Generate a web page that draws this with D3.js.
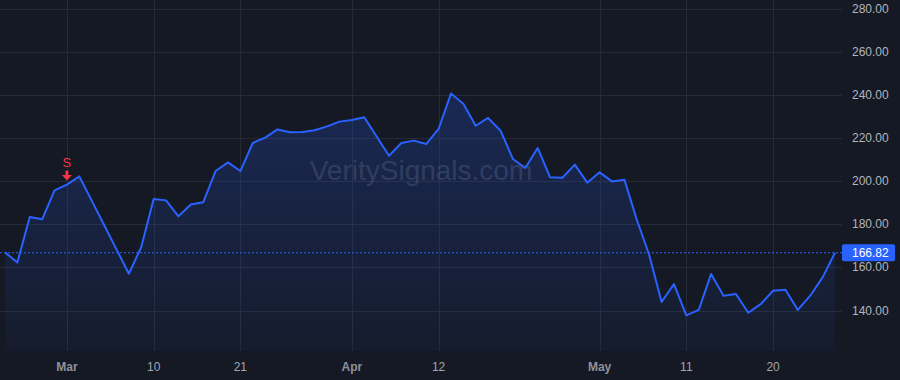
<!DOCTYPE html>
<html>
<head>
<meta charset="utf-8">
<script src="https://cdn.jsdelivr.net/npm/d3@7"></script>
<style>
  html, body { margin:0; padding:0; background:#151924; }
  svg { display:block; font-family:"Liberation Sans", Arial, sans-serif; }
</style>
</head>
<body>
<div id="display"></div>
<script>
var dates = [
  '2022-02-22','2022-02-23','2022-02-24','2022-02-25','2022-02-28',
  '2022-03-01','2022-03-02','2022-03-03','2022-03-04','2022-03-07','2022-03-08','2022-03-09','2022-03-10','2022-03-11',
  '2022-03-14','2022-03-15','2022-03-16','2022-03-17','2022-03-18','2022-03-21','2022-03-22','2022-03-23','2022-03-24',
  '2022-03-25','2022-03-28','2022-03-29','2022-03-30','2022-03-31',
  '2022-04-01','2022-04-04','2022-04-05','2022-04-06','2022-04-07','2022-04-08','2022-04-11','2022-04-12','2022-04-13',
  '2022-04-14','2022-04-18','2022-04-19','2022-04-20','2022-04-21','2022-04-22','2022-04-25','2022-04-26','2022-04-27',
  '2022-04-28','2022-04-29',
  '2022-05-02','2022-05-03','2022-05-04','2022-05-05','2022-05-06','2022-05-09','2022-05-10','2022-05-11','2022-05-12',
  '2022-05-13','2022-05-16','2022-05-17','2022-05-18','2022-05-19','2022-05-20','2022-05-23','2022-05-24','2022-05-25',
  '2022-05-26','2022-05-27'
]
var closes = [
  167.0, 162.3, 183.4, 182.3, 195.7,
  198.4, 202.2, 191.0, 179.7, 168.4, 157.1, 169.5, 191.7, 191.1,
  183.7, 189.2, 190.2, 204.7, 208.7, 204.7, 217.7, 220.2, 224.0,
  222.7, 222.8, 223.6, 225.4, 227.6,
  228.4, 229.6, 220.7, 211.8, 217.7, 218.8, 217.2, 224.2, 240.6,
  235.9, 225.7, 229.3, 223.4, 210.3, 206.1, 215.4, 201.8, 201.6,
  207.7, 199.3,
  204.1, 199.9, 200.7, 182.1, 165.9, 144.0, 152.3, 137.8, 140.3,
  157.0, 146.9, 147.7, 139.0, 143.0, 149.2, 149.7, 140.3, 146.9,
  155.4, 166.82
]
var priceTicks = [140, 160, 180, 200, 220, 240, 260, 280]
var timeTicks = ['2022-03-01','2022-03-10','2022-03-21','2022-04-01','2022-04-12','2022-05-02','2022-05-11','2022-05-20']
var timeLabels = ['Mar','10','21','Apr','12','May','11','20']
var monthTicks = ['Mar','Apr','May']
var lastPrice = 166.82
var signalDates = ['2022-03-01']
var signalTypes = ['S']

var width = 900, height = 380
var plotRight = 842, plotBottom = 351

var svg = d3.select('#display').append('svg')
  .attr('width', width)
  .attr('height', height)

svg.append('rect').attr('width', width).attr('height', height).attr('fill', '#151924')

var x = d3.scalePoint().domain(dates).range([5, 835])
var y = d3.scaleLinear().domain([140, 280]).range([310.6, 8.6])

var defs = svg.append('defs')
var grad = defs.append('linearGradient')
  .attr('id', 'areaGrad')
  .attr('gradientUnits', 'userSpaceOnUse')
  .attr('x1', 0).attr('x2', 0)
  .attr('y1', y(d3.max(closes))).attr('y2', plotBottom)
grad.append('stop').attr('offset', 0).attr('stop-color', '#2962ff').attr('stop-opacity', 0.22)
grad.append('stop').attr('offset', 1).attr('stop-color', '#2962ff').attr('stop-opacity', 0.04)

// grid
svg.append('g').selectAll('line').data(priceTicks).enter()
  .append('line')
  .attr('x1', 0).attr('x2', plotRight)
  .attr('y1', function(d){ return Math.round(y(d)) + 0.5 })
  .attr('y2', function(d){ return Math.round(y(d)) + 0.5 })
  .attr('stroke', '#252a36')
  .attr('stroke-width', 1)

svg.append('g').selectAll('line').data(timeTicks).enter()
  .append('line')
  .attr('x1', function(d){ return Math.round(x(d)) + 0.5 })
  .attr('x2', function(d){ return Math.round(x(d)) + 0.5 })
  .attr('y1', 0).attr('y2', plotBottom)
  .attr('stroke', '#252a36')
  .attr('stroke-width', 1)

// watermark
svg.append('text')
  .attr('x', 421).attr('y', 180)
  .attr('text-anchor', 'middle')
  .attr('font-size', 28)
  .attr('fill', '#ffffff')
  .attr('fill-opacity', 0.15)
  .text('VeritySignals.com')

var pts = dates.map(function(d, i){ return {date: d, close: closes[i]} })

var area = d3.area()
  .x(function(d){ return x(d.date) })
  .y0(plotBottom)
  .y1(function(d){ return y(d.close) })

var line = d3.line()
  .x(function(d){ return x(d.date) })
  .y(function(d){ return y(d.close) })

svg.append('path').datum(pts)
  .attr('d', area)
  .attr('fill', 'url(#areaGrad)')

svg.append('path').datum(pts)
  .attr('d', line)
  .attr('fill', 'none')
  .attr('stroke', '#2962ff')
  .attr('stroke-width', 2)
  .attr('stroke-linejoin', 'round')

// last price line
svg.append('line')
  .attr('x1', 0).attr('x2', plotRight)
  .attr('y1', y(lastPrice)).attr('y2', y(lastPrice))
  .attr('stroke', '#2962ff')
  .attr('stroke-width', 1)
  .attr('stroke-dasharray', '2,2')

// signal markers
signalDates.forEach(function(d, i){
  var sx = x(d)
  var sy = y(closes[dates.indexOf(d)])
  var g = svg.append('g').attr('fill', '#f23645')
  g.append('text')
    .attr('x', sx).attr('y', sy - 18)
    .attr('text-anchor', 'middle')
    .attr('font-size', 13)
    .text(signalTypes[i])
  g.append('rect')
    .attr('x', sx - 1.5).attr('y', sy - 14)
    .attr('width', 3).attr('height', 5)
  g.append('path')
    .attr('d', 'M' + (sx - 5) + ',' + (sy - 9.5) + 'L' + (sx + 5) + ',' + (sy - 9.5) + 'L' + sx + ',' + (sy - 4) + 'Z')
})

// price axis
svg.append('g').selectAll('text').data(priceTicks).enter()
  .append('text')
  .attr('x', 852)
  .attr('y', function(d){ return y(d) + 4 })
  .attr('font-size', 12)
  .attr('fill', '#b2b5be')
  .text(function(d){ return d3.format('.2f')(d) })

svg.append('rect')
  .attr('x', 842).attr('y', y(lastPrice) - 8.5)
  .attr('width', 53).attr('height', 17)
  .attr('rx', 2)
  .attr('fill', '#2962ff')
svg.append('text')
  .attr('x', 852).attr('y', y(lastPrice) + 4)
  .attr('font-size', 12)
  .attr('fill', '#ffffff')
  .text(d3.format('.2f')(lastPrice))

// time axis
svg.append('g').selectAll('text').data(timeTicks).enter()
  .append('text')
  .attr('x', function(d){ return x(d) })
  .attr('y', 371)
  .attr('text-anchor', 'middle')
  .attr('font-size', 12)
  .attr('font-weight', function(d, i){ return monthTicks.indexOf(timeLabels[i]) >= 0 ? 'bold' : 'normal' })
  .attr('fill', function(d, i){ return monthTicks.indexOf(timeLabels[i]) >= 0 ? '#8f929b' : '#a3a6af' })
  .text(function(d, i){ return timeLabels[i] })
</script>
</body>
</html>
